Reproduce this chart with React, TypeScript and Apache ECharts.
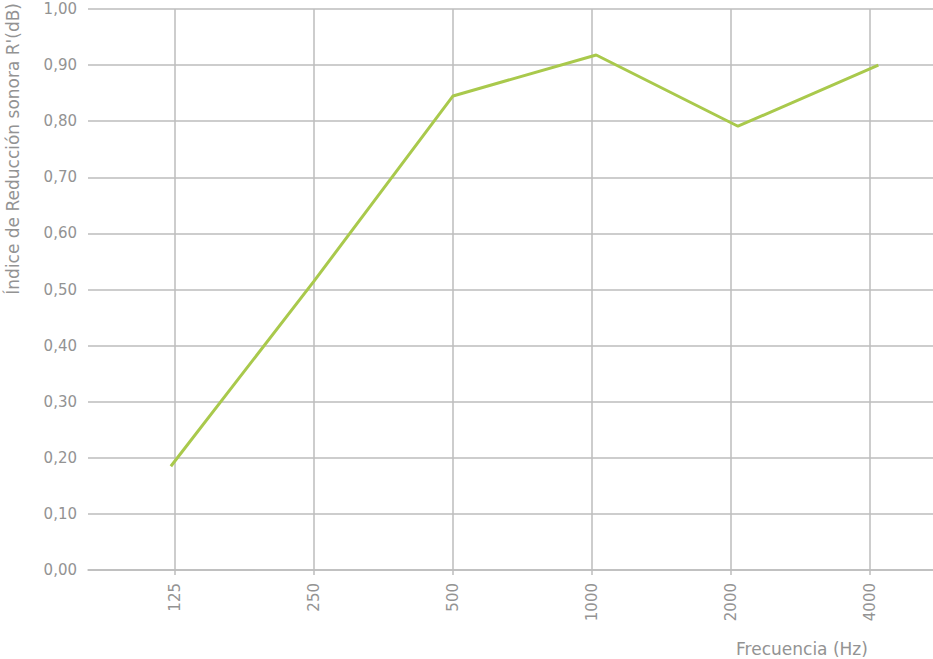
import React, { useEffect, useRef } from "react";
import * as echarts from "echarts";

// Octave-band frequencies and measured sound reduction index
const freqLabels = ["125", "250", "500", "1000", "2000", "4000"];
const bandTicks = [1, 2, 3, 4, 5, 6];
const bandPositions = [0.97, 2.0, 3.0, 4.03, 5.05, 6.06];
const reductionValues = [0.185, 0.515, 0.845, 0.918, 0.791, 0.9];

const FONT = "'DejaVu Sans', Lato, sans-serif";
const GRID_COLOR = "#bcbcbc";
const TEXT_COLOR = "#939393";

export default function App() {
  const ref = useRef<HTMLDivElement>(null);

  useEffect(() => {
    if (!ref.current) return;
    const chart = echarts.init(ref.current, undefined, { renderer: "svg" });
    const seriesData = bandPositions.map((x, i) => [x, reductionValues[i]]);

    chart.setOption({
      animation: false,
      backgroundColor: "#ffffff",
      grid: { left: 88, right: 0, top: 9, bottom: 89, containLabel: false },
      xAxis: {
        type: "value",
        min: 0.374,
        max: 6.453,
        axisLine: { show: true, lineStyle: { color: GRID_COLOR, width: 1.5 } },
        axisTick: {
          show: true,
          customValues: bandTicks,
          length: 5,
          lineStyle: { color: GRID_COLOR, width: 1.5 },
        },
        splitLine: {
          show: true,
          lineStyle: { color: GRID_COLOR, width: 1.5 },
        },
        axisLabel: {
          customValues: bandTicks,
          rotate: 90,
          margin: 13,
          color: TEXT_COLOR,
          fontFamily: FONT,
          fontSize: 15,
          formatter: (v: number) => freqLabels[Math.round(v) - 1] ?? "",
        },
      },
      yAxis: {
        type: "value",
        min: 0,
        max: 1,
        interval: 0.1,
        axisLine: { show: false },
        axisTick: { show: false },
        splitLine: { show: true, lineStyle: { color: GRID_COLOR, width: 1.5 } },
        axisLabel: {
          margin: 11,
          color: TEXT_COLOR,
          fontFamily: FONT,
          fontSize: 15,
          formatter: (v: number) => v.toFixed(2).replace(".", ","),
        },
      },
      graphic: [
        {
          type: "text",
          x: 13,
          y: 3,
          rotation: Math.PI / 2,
          style: {
            text: "Índice de Reducción sonora R'(dB)",
            fill: TEXT_COLOR,
            font: `17px ${FONT}`,
            align: "right",
            verticalAlign: "middle",
          },
        },
        {
          type: "text",
          x: 802,
          y: 649,
          style: {
            text: "Frecuencia (Hz)",
            fill: TEXT_COLOR,
            font: `17px ${FONT}`,
            align: "center",
            verticalAlign: "middle",
          },
        },
      ],
      series: [
        {
          type: "line",
          data: seriesData,
          showSymbol: false,
          symbol: "none",
          lineStyle: { color: "#a9c94c", width: 3 },
        },
      ],
    });

    return () => chart.dispose();
  }, []);

  return (
    <div
      ref={ref}
      style={{ position: "fixed", left: 0, top: 0, width: 933, height: 659 }}
    />
  );
}
